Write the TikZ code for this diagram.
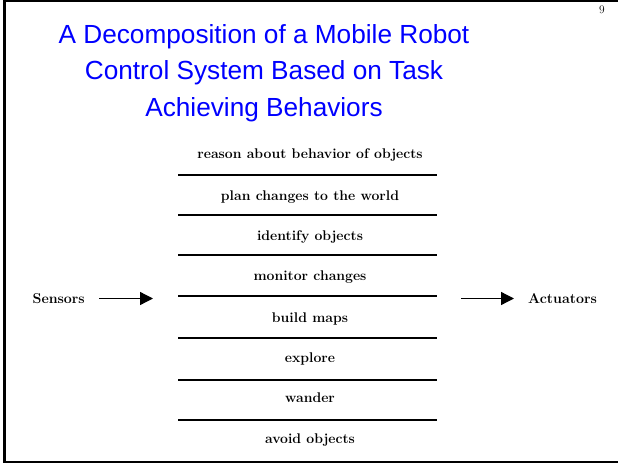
\documentclass[tikz,border=0pt]{standalone}
\usepackage{fontspec}
\newfontfamily\titlefont{Liberation Sans}
\usepackage{tikz}
\usetikzlibrary{arrows.meta,positioning}

\definecolor{titleblue}{RGB}{0,0,255}

\begin{document}
\begin{tikzpicture}[x=1pt, y=-1pt,
  title/.style={font=\titlefont\fontsize{26.2}{36.5}\selectfont, text=titleblue, align=center, inner sep=0pt},
  layer/.style={font=\bfseries\fontsize{14}{16}\selectfont, inner sep=0pt, anchor=base},
  side/.style={font=\bfseries\fontsize{14.2}{16}\selectfont, inner sep=0pt},
  sep/.style={line width=1.5pt},
  feed/.style={-{Triangle[length=13pt, width=13pt]}, line width=1.3pt}
]

% page size and frame
\useasboundingbox (0,0) rectangle (618,463);
\draw[line width=2.5pt] (4.5,0) -- (4.5,463);
\draw[line width=1.5pt] (4.5,0.8) -- (618,0.8);
\draw[line width=1.5pt] (4.5,462) -- (618,462);

% stack of layers
\def\stackl{178}
\def\stackr{437}
\def\stackc{310}

% title and page number
\node[title, anchor=north] (title) at (264,24)
  {A Decomposition of a Mobile Robot\\ Control System Based on Task\\ Achieving Behaviors};
\node[inner sep=0pt, font=\fontsize{11.5}{12}\selectfont] (page) at (602,10) {9};

% layer names, top to bottom
\foreach \y/\name/\txt in {158/l1/reason about behavior of objects,
                           200/l2/plan changes to the world,
                           240/l3/identify objects,
                           280/l4/monitor changes,
                           322/l5/build maps,
                           362/l6/explore,
                           402/l7/wander,
                           443/l8/avoid objects}
  \node[layer] (\name) at (\stackc,\y) {\txt};

% separator lines
\foreach \y in {175,215,255,296,338,380,420}
  \draw[sep] (\stackl,\y) -- (\stackr,\y);

% sensors in, actuators out
\node[side, anchor=east] (sensors) at (85,299) {Sensors};
\node[side, anchor=west] (actuators) at (528,299) {Actuators};
\coordinate (in) at (153,298.5);
\coordinate (out) at (514,298.5);
\draw[feed] ([xshift=14pt]sensors.east |- in) -- (in);
\draw[feed] ([xshift=-67pt]actuators.west |- out) -- (out);

\end{tikzpicture}
\end{document}
